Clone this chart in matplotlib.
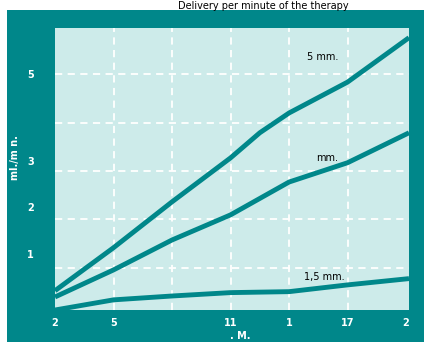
import numpy as np
import matplotlib.pyplot as plt
from matplotlib.patches import Rectangle

# colours
TEAL = "#00878a"
LIGHT = "#cdebea"

## DATA
x_pos = [0, 1, 2, 3, 3.5, 4, 5, 6.05]
y_5mm = [0.52, 1.41, 2.36, 3.27, 3.79, 4.2, 4.84, 5.76]

x_pos2 = [0, 1, 2, 3, 4, 5, 6.05]
y_mm = [0.39, 0.95, 1.57, 2.09, 2.77, 3.17, 3.79]
y_15mm = [0.12, 0.33, 0.41, 0.48, 0.5, 0.64, 0.77]

x_ticks = [0, 1, 3, 4, 5, 6]
x_ticklabels = ["2", "5", "11", "1", "17", "2"]
y_ticks = [1.27, 2.25, 3.2, 5.0]
y_ticklabels = ["1", "2", "3", "5"]
grid_x = [1, 2, 3, 4, 5]
grid_y = [1, 2, 3, 4, 5]


fig = plt.figure(figsize=(4.24, 3.42), dpi=100)
fig.patch.set_facecolor("white")
fig.patches.append(Rectangle((7 / 424, 0), 1, 1 - 10 / 342, transform=fig.transFigure,
                             facecolor=TEAL, edgecolor="none", zorder=-10))

ax = fig.add_axes([55 / 424, 1 - 310 / 342, (409 - 55) / 424, (310 - 28) / 342])
ax.set_facecolor(LIGHT)
for s in ax.spines.values():
    s.set_visible(False)

ax.set_xlim(0, 6.05)
ax.set_ylim(0.12, 5.96)

# grid (major ticks, no labels)
ax.set_xticks(grid_x)
ax.set_yticks(grid_y)
ax.tick_params(which="major", length=0, labelbottom=False, labelleft=False)
ax.grid(True, color="white", linestyle=(0, (4, 3)), linewidth=1.3)
ax.set_axisbelow(True)

# labelled ticks (minor) - keep those that sit on a grid line too
ax.xaxis.remove_overlapping_locs = False
ax.yaxis.remove_overlapping_locs = False
ax.set_xticks(x_ticks, minor=True)
ax.set_xticklabels(x_ticklabels, minor=True)
ax.set_yticks(y_ticks, minor=True)
ax.set_yticklabels(y_ticklabels, minor=True)
ax.tick_params(which="minor", length=0, colors="white", labelsize=7)
for t in ax.get_xticklabels(minor=True) + ax.get_yticklabels(minor=True):
    t.set_fontweight("bold")
ax.tick_params(axis="x", which="minor", pad=6)
ax.tick_params(axis="y", which="minor", pad=15)

ax.plot(x_pos, y_5mm, color=TEAL, lw=3.5, solid_capstyle="butt")
ax.plot(x_pos2, y_mm, color=TEAL, lw=3.5, solid_capstyle="butt")
ax.plot(x_pos2, y_15mm, color=TEAL, lw=3.5, solid_capstyle="butt")

ax.text(4.58, 5.36, "5 mm.", fontsize=7, color="black", ha="center", va="center")
ax.text(4.65, 3.27, "mm.", fontsize=7, color="black", ha="center", va="center")
ax.text(4.6, 0.8, "1,5 mm.", fontsize=7, color="black", ha="center", va="center")

fig.text(15 / 424, 1 - 158 / 342, "ml./m n.", rotation=90, color="white",
         fontsize=7, fontweight="bold", ha="center", va="center")
fig.text(240 / 424, 1 - 336 / 342, ". M.", color="white", fontsize=7,
         fontweight="bold", ha="center", va="center")

# title, in the thin white strip at the top
fig.text(0.62, 1 - 1 / 342, "Delivery per minute of the therapy", color="black",
         fontsize=7, ha="center", va="top")

fig.savefig("out.png", dpi=100)
